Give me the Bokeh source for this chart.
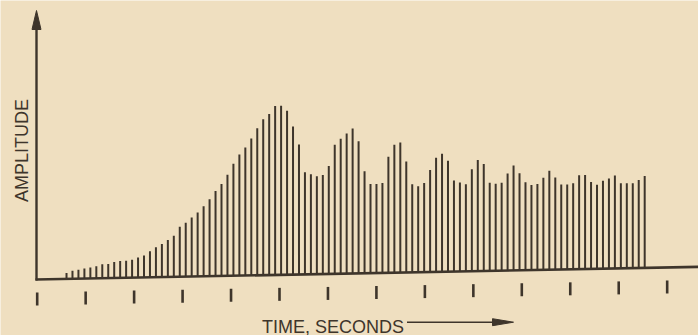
import math
from bokeh.plotting import figure
from bokeh.models import Range1d
from bokeh.core.properties import value
from bokeh.embed import file_html
from bokeh.resources import INLINE

# ---- data ----
amplitude = [6, 8, 9, 10, 11, 12, 14, 14, 16, 17,
             17, 18, 20, 22, 26, 30, 33, 37, 41, 50,
             54, 59, 64, 70, 77, 85, 92, 101, 112, 121,
             128, 137, 147, 156, 161, 169, 169, 164, 148, 130,
             102, 100, 98, 99, 108, 129, 135, 140, 145, 132,
             102, 89, 89, 90, 116, 128, 130, 111, 88, 86,
             89, 102, 114, 118, 111, 91, 89, 87, 102, 111,
             107, 88, 87, 88, 97, 105, 97, 88, 85, 86,
             92, 99, 92, 85, 85, 86, 94, 94, 87, 84,
             88, 90, 93, 85, 85, 85, 88, 92]
sample_start = 0.605      # time of first sample (tick units)
sample_step = 0.123       # sampling interval (tick units)
tick_times = list(range(14))
x_label = "TIME, SECONDS"
y_label = "AMPLITUDE"

# ---- layout / style ----
OFF = 0
W, H = 698, 335
PX0, PXT = 36.7, 48.46          # x pixel of t=0, pixels per time unit
B = 273.0                       # baseline pixel (at mid chart)
TILT = 0.019 * PXT              # slight slope of the printed baseline
T_MID = (350 - PX0) / PXT
BG = "#efdfc0"
INK = "#3e352b"
FONT = "Liberation Sans"

def tx(px):
    return (px - PX0) / PXT

def ay(py):
    return B - py

def base(t):
    return TILT * (t - T_MID)

times = [sample_start + i * sample_step for i in range(len(amplitude))]

p = figure(width=W, height=H, output_backend="svg", toolbar_location=None,
           x_range=Range1d(tx(OFF), tx(OFF + W)), y_range=Range1d(ay(OFF + H), ay(OFF)),
           min_border=0, background_fill_color=BG, border_fill_color=BG,
           outline_line_color=None)
p.axis.visible = False
p.grid.visible = False

# stems
p.segment(x0=times, y0=[base(t) for t in times], x1=times,
          y1=[base(t) + a for t, a in zip(times, amplitude)],
          line_color=INK, line_width=2.0)

# time axis line
t_a, t_b = tx(35), tx(OFF + W + 2)
p.segment(x0=[t_a], y0=[base(t_a)], x1=[t_b], y1=[base(t_b)], line_color=INK, line_width=2.6)

# amplitude axis line with arrow
t_y = tx(36)
p.segment(x0=[t_y], y0=[base(t_y) - 1], x1=[t_y], y1=[ay(20)], line_color=INK, line_width=2.4)
p.patch(x=[t_y, t_y - 4.5 / PXT, t_y + 4.5 / PXT], y=[ay(10), ay(29), ay(29)],
        fill_color=INK, line_color=INK, line_width=1)

# time ticks below the axis
p.segment(x0=tick_times, y0=[base(t) - 13 for t in tick_times], x1=tick_times,
          y1=[base(t) - 26 for t in tick_times], line_color=INK, line_width=2.6)

# labels
p.text(x=[tx(21.5)], y=[ay(150)], text=[y_label], angle=math.pi / 2,
       text_align="center", text_baseline="alphabetic",
       text_font=value(FONT), text_font_size="18px", text_color=INK)
p.text(x=[tx(261.5)], y=[ay(326)], text=[x_label],
       text_align="left", text_baseline="alphabetic",
       text_font=value(FONT), text_font_size="18px", text_color=INK)

# arrow after the time label
ya = ay(321.7)
p.segment(x0=[tx(406.5)], y0=[ya], x1=[tx(500)], y1=[ya], line_color=INK, line_width=1.6)
p.patch(x=[tx(513), tx(492), tx(492)], y=[ya, ya + 3.5, ya - 3.5],
        fill_color=INK, line_color=INK, line_width=1)

open("out.html", "w").write(file_html(p, INLINE))
